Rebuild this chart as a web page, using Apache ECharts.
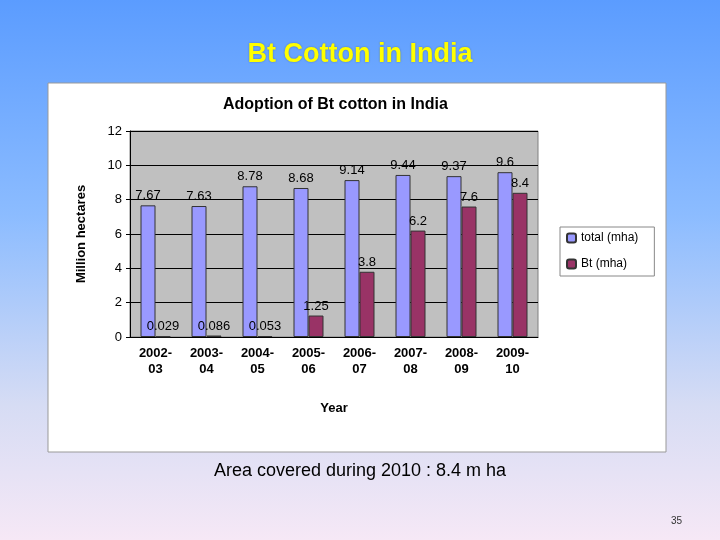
<!DOCTYPE html>
<html><head><meta charset="utf-8">
<script src="https://cdn.jsdelivr.net/npm/echarts@6/dist/echarts.min.js"></script>
<style>html,body{margin:0;padding:0;}#c{width:720px;height:540px;background:linear-gradient(#5b9cff 0%,#8cbcff 40%,#d6dcf4 75%,#f6e8f6 100%);}</style>
</head><body><div id="c"></div>
<script>
const years = ['2002-\n03','2003-\n04','2004-\n05','2005-\n06','2006-\n07','2007-\n08','2008-\n09','2009-\n10'];
const totalMha = [7.67,7.63,8.78,8.68,9.14,9.44,9.37,9.6];
const btMha = [0.029,0.086,0.053,1.25,3.8,6.2,7.6,8.4];
const chart = echarts.init(document.getElementById('c'));
const F = 'Liberation Sans, Arial, sans-serif';
chart.setOption({
  textStyle:{fontFamily:F},
  graphic:[
    {type:'rect',z:-10,shape:{x:48,y:83,width:618,height:369},style:{fill:'#fff',stroke:'#999',lineWidth:1}},
    {type:'text',left:'center',top:462,style:{text:'Area covered during 2010 : 8.4 m ha',fontSize:18,fill:'#000',fontFamily:F},x:-10},
    {type:'text',left:671,top:516,style:{text:'35',fontSize:10,fill:'#333',fontFamily:F}}
  ],
  title:[
    {text:'Bt Cotton in India',left:'center',top:36,textStyle:{color:'#ffff00',fontSize:27,fontWeight:'bold',fontFamily:F,textShadowColor:'rgba(0,0,0,0.3)',textShadowBlur:2}},
    {text:'Adoption of Bt cotton in India',left:218,top:92,textStyle:{color:'#000',fontSize:16,fontWeight:'bold',fontFamily:F}}
  ],
  legend:{orient:'vertical',left:560,top:227,itemGap:14,itemWidth:9,itemHeight:9,
    backgroundColor:'#fff',borderColor:'#888',borderWidth:1,padding:[5,16,6,6],
    textStyle:{fontSize:12,color:'#000'},data:['total (mha)','Bt (mha)']},
  grid:{left:130,right:182,top:131,bottom:203,backgroundColor:'#c0c0c0',show:true,borderWidth:1,borderColor:'#808080'},
  xAxis:{type:'category',data:years,name:'Year',nameLocation:'middle',nameGap:65,
    nameTextStyle:{fontSize:13,fontWeight:'bold',color:'#000'},
    axisLine:{lineStyle:{color:'#000'}},axisTick:{show:false},
    axisLabel:{color:'#000',fontSize:13,fontWeight:'bold',interval:0,lineHeight:16}},
  yAxis:{type:'value',min:0,max:12,interval:2,name:'Million hectares',nameLocation:'middle',nameGap:42,
    nameTextStyle:{fontSize:13,fontWeight:'bold',color:'#000'},
    axisLine:{show:true,lineStyle:{color:'#000'}},axisTick:{show:true,inside:false,length:4},
    axisLabel:{color:'#000',fontSize:13},splitLine:{lineStyle:{color:'#000',width:1}}},
  series:[
    {name:'total (mha)',type:'bar',data:totalMha,barWidth:15,barGap:'0%',
      itemStyle:{color:'#9999ff',borderColor:'#333',borderWidth:1},
      label:{show:true,position:'top',color:'#000',fontSize:13,distance:3}},
    {name:'Bt (mha)',type:'bar',data:btMha,barWidth:15,
      itemStyle:{color:'#993366',borderColor:'#333',borderWidth:1},
      label:{show:true,position:'top',color:'#000',fontSize:13,distance:3}}
  ]
});
</script></body></html>
